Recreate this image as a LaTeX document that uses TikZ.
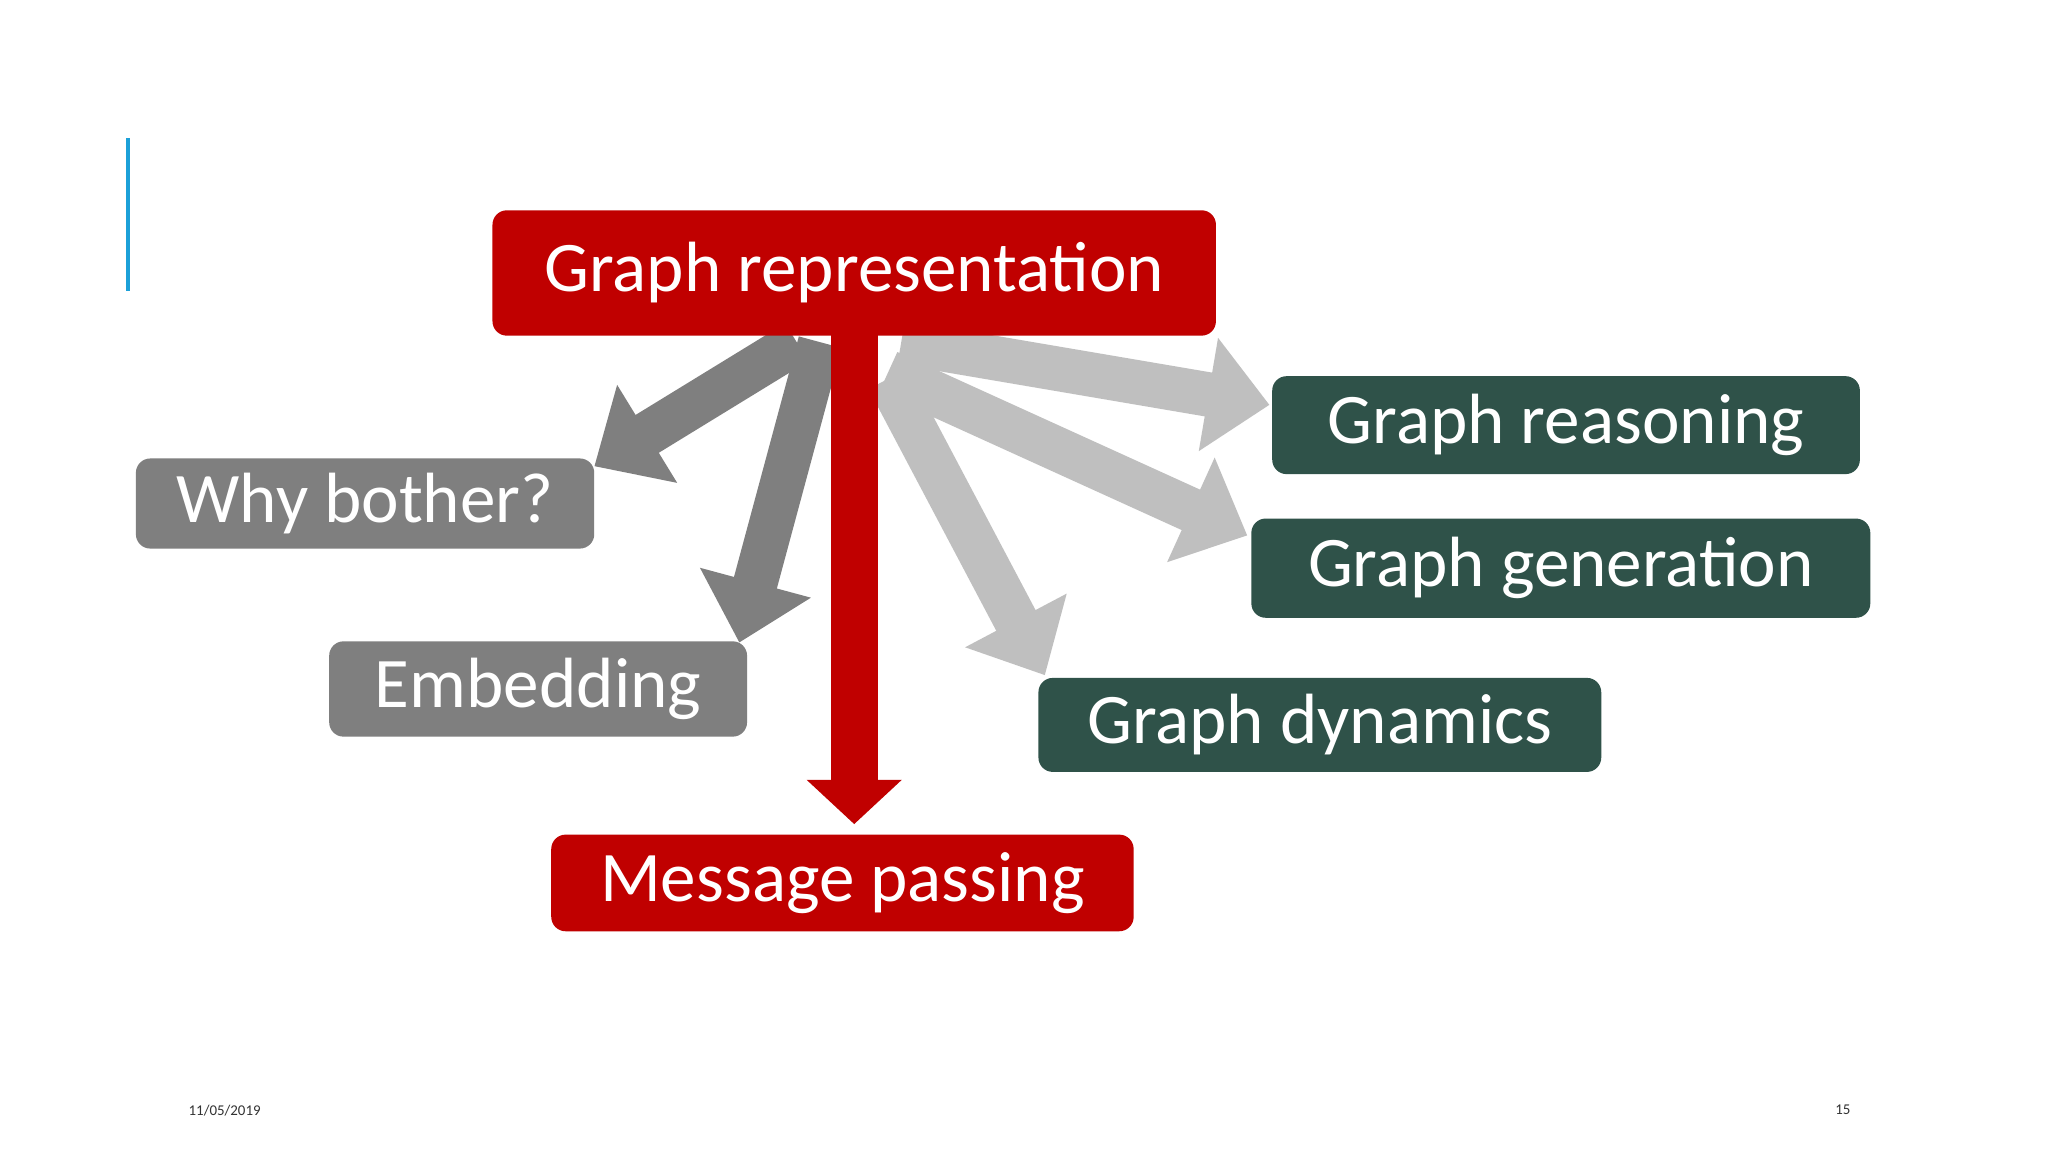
\documentclass[tikz,border=0pt]{standalone}
\usepackage{fontspec}
\setmainfont{Carlito}
\usetikzlibrary{arrows.meta}
\definecolor{rd}{HTML}{C00000}
\definecolor{dg}{HTML}{7F7F7F}
\definecolor{lg}{HTML}{BFBFBF}
\definecolor{gr}{HTML}{2F5249}
\definecolor{bl}{HTML}{1CA0D8}
\tikzset{
  lbl/.style={rounded corners=0.22cm, text=white, font=\fontsize{31}{36}\selectfont, inner sep=0pt},
  redarr/.style={draw=rd, line width=0.72cm, -{Triangle[width=1.42cm,length=0.68cm]}},
  darr/.style={draw=dg, line width=0.68cm, -{Triangle[width=1.7cm,length=0.95cm]}},
  larr/.style={draw=lg, line width=0.68cm, -{Triangle[width=1.7cm,length=0.95cm]}},
}
\begin{document}
\begin{tikzpicture}[x=0.02cm,y=-0.02cm]
\useasboundingbox (0,0) rectangle (1568,882);
\fill[white] (0,0) rectangle (1568,882);
\draw[bl, line width=0.06cm] (98,106) -- (98,223);
% anchors
\coordinate (rs) at (654,240);
\coordinate (rt) at (654,631);
\coordinate (w0) at (610,262);
\coordinate (wt) at (455,357);
\coordinate (e0) at (628,262);
\coordinate (et) at (566,492);
\coordinate (g0) at (690,262);
\coordinate (gt) at (972,310);
\coordinate (h0) at (680,285);
\coordinate (ht) at (955,410);
\coordinate (d0) at (680,290);
\coordinate (dt) at (800,517);
\draw[larr] (g0) -- (gt);
\draw[larr] (h0) -- (ht);
\draw[larr] (d0) -- (dt);
\draw[darr] (w0) -- (wt);
\draw[darr] (e0) -- (et);
\draw[redarr] (rs) -- (rt);
% boxes
\node[lbl, fill=rd, minimum width=11.08cm, minimum height=1.92cm] (rep) at (654,209) {Graph representation};
\node[lbl, fill=dg, minimum width=7.02cm, minimum height=1.38cm] (why) at (279.5,385.5) {Why bother?};
\node[lbl, fill=dg, minimum width=6.4cm, minimum height=1.46cm] (emb) at (412,527.5) {Embedding};
\node[lbl, fill=rd, minimum width=8.92cm, minimum height=1.48cm] (msg) at (645,676) {Message passing};
\node[lbl, fill=gr, minimum width=9.0cm, minimum height=1.5cm] (rea) at (1199,325.5) {Graph reasoning};
\node[lbl, fill=gr, minimum width=9.48cm, minimum height=1.52cm] (gen) at (1195,435) {Graph generation};
\node[lbl, fill=gr, minimum width=8.62cm, minimum height=1.44cm] (dyn) at (1010.5,555) {Graph dynamics};
\node[font=\fontsize{6.5}{8}\selectfont, text=black!80] (date) at (172,850) {11/05/2019};
\node[font=\fontsize{6.5}{8}\selectfont, text=black!80] (pg) at (1411,850) {15};
\end{tikzpicture}
\end{document}
